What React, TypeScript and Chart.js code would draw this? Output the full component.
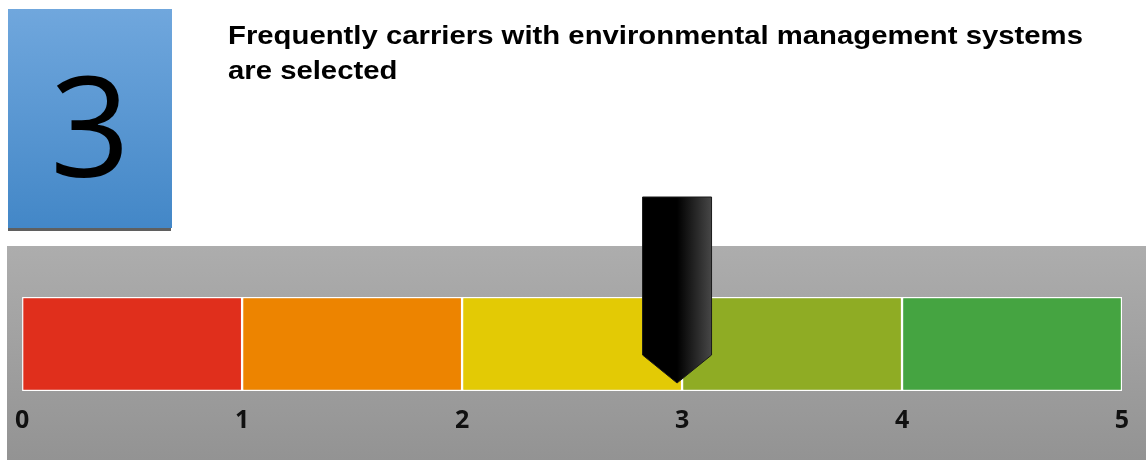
import React, { useEffect, useRef } from "react";
import { Chart, registerables } from "chart.js";

Chart.register(...registerables);

// ---- data ----
const scoreValue = 3;
const titleLines = ["Frequently carriers with environmental management systems", "are selected"];
const bandLabels = ["0-1", "1-2", "2-3", "3-4", "4-5"];
const bandSizes = [1, 1, 1, 1, 1];
const bandColors = ["#e02f1c", "#ed8400", "#e3ca05", "#8fac24", "#45a441"];
const scaleMin = 0;
const scaleMax = 5;

const panelPlugin = {
  id: "panelBg",
  beforeDraw(chart: any) {
    const ctx = chart.ctx;
    ctx.save();
    const g = ctx.createLinearGradient(0, 246, 0, 460);
    g.addColorStop(0, "#adadad");
    g.addColorStop(1, "#939393");
    ctx.fillStyle = g;
    ctx.fillRect(7, 246, chart.width - 7, chart.height - 246);
    ctx.restore();
  },
};

const pointerPlugin = {
  id: "pointer",
  afterDatasetsDraw(chart: any) {
    const ctx = chart.ctx;
    const x = chart.scales.x.getPixelForValue(scoreValue) - 5;
    const area = chart.chartArea;
    const half = 34.5;
    const top = 197;
    const shoulder = area.bottom - 36;
    const tip = area.bottom - 8;
    ctx.save();
    const g = ctx.createLinearGradient(x - half, 0, x + half, 0);
    g.addColorStop(0, "#000000");
    g.addColorStop(0.5, "#000000");
    g.addColorStop(1, "#474747");
    ctx.beginPath();
    ctx.moveTo(x - half, top);
    ctx.lineTo(x + half, top);
    ctx.lineTo(x + half, shoulder);
    ctx.lineTo(x, tip);
    ctx.lineTo(x - half, shoulder);
    ctx.closePath();
    ctx.fillStyle = g;
    ctx.fill();
    ctx.lineWidth = 1;
    ctx.strokeStyle = "#1a1a1a";
    ctx.stroke();
    ctx.restore();
  },
};

export default function App() {
  const ref = useRef<HTMLCanvasElement | null>(null);

  useEffect(() => {
    if (!ref.current) return;
    const chart = new Chart(ref.current, {
      type: "bar",
      data: {
        labels: ["score"],
        datasets: bandSizes.map((v, i) => ({
          label: bandLabels[i],
          data: [v],
          backgroundColor: bandColors[i],
          borderColor: "#ffffff",
          borderWidth: 1.5,
          borderSkipped: false,
          stack: "s",
          barPercentage: 1,
          categoryPercentage: 1,
        })),
      },
      options: {
        indexAxis: "y",
        animation: false,
        responsive: false,
        maintainAspectRatio: false,
        layout: { padding: { left: 21, right: 24, top: 297, bottom: 9 } },
        plugins: {
          legend: { display: false },
          tooltip: { enabled: false },
          title: { display: false },
        },
        scales: {
          x: {
            stacked: true,
            min: scaleMin,
            max: scaleMax,
            grid: { display: false, drawTicks: false, tickLength: 0 },
            border: { display: false },
            ticks: {
              stepSize: 1,
              padding: 15,
              color: "#111111",
              font: { family: "'Open Sans', sans-serif", size: 25, weight: "bold" },
              maxRotation: 0,
            },
          },
          y: {
            stacked: true,
            display: false,
          },
        },
      },
      plugins: [panelPlugin, pointerPlugin],
    } as any);
    return () => chart.destroy();
  }, []);

  return (
    <div style={{ position: "absolute", left: 0, top: 0, width: 1146, height: 460 }}>
      <canvas ref={ref} width={1146} height={460} style={{ position: "absolute", left: 0, top: 0 }} />
      <div
        style={{
          position: "absolute",
          left: 8,
          top: 9,
          width: 164,
          height: 219,
          background: "linear-gradient(#70a7dd, #4387c7)",
          display: "flex",
          alignItems: "center",
          justifyContent: "center",
        }}
      >
        <span
          style={{
            fontFamily: "'Open Sans', sans-serif",
            fontSize: 140,
            lineHeight: "140px",
            color: "#000",
            marginTop: 8,
          }}
        >
          {scoreValue}
        </span>
      </div>
      <div style={{ position: "absolute", left: 8, top: 228, width: 163, height: 3, background: "#5f5f5f" }} />
      <div
        style={{
          position: "absolute",
          left: 228,
          top: 18,
          fontFamily: "'Liberation Sans', Arial, sans-serif",
          fontWeight: "bold",
          fontSize: 26,
          lineHeight: "35px",
          color: "#000",
          whiteSpace: "nowrap",
          transform: "scaleX(1.127)",
          transformOrigin: "left top",
        }}
      >
        {titleLines.map((l, i) => (
          <div key={i}>{l}</div>
        ))}
      </div>
    </div>
  );
}
